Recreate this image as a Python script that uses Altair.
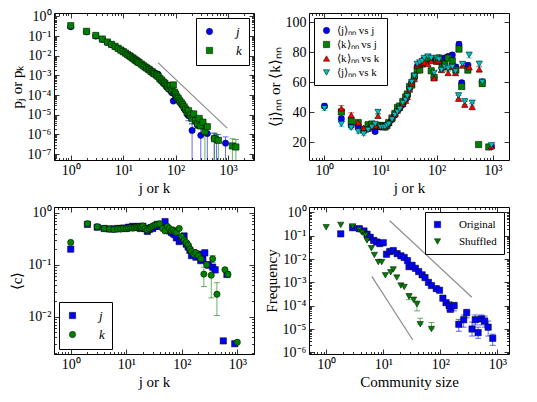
import altair as alt
import pandas as pd

FONT = "Liberation Serif"
BLUE, GREEN, RED, CYAN, GRAY = "#0000ff", "#008000", "#ff0000", "#00bfbf", "#8c8c8c"
W, H = 200, 147
TICK = 5

# ---------------- Panel A (top-left): p_j / p_k ----------------
TL_X = [1, 2, 3, 4, 5, 6, 7, 8, 9, 10,
        11, 12, 13, 14, 15, 16, 17, 18, 19, 20,
        22, 24, 26, 28, 30, 32, 34, 36, 38, 40,
        43, 46, 50, 54, 58, 62, 66, 70, 75, 80,
        85, 90, 95, 100, 106, 112, 120, 128, 136, 145,
        155, 165, 175, 190, 205, 220, 240, 260, 280, 300,
        330, 360, 400]
TL_PJ = [0.30, 0.165, 0.100, 0.068, 0.048, 0.037, 0.029, 0.0235, 0.0192, 0.016,
         0.0136, 0.0117, 0.0101, 0.0088, 0.0077, 0.0068, 0.006, 0.0054, 0.0048, 0.0044,
         0.0037, 0.0031, 0.0027, 0.0023, 0.0021, 0.0018, 0.0016, 0.0014, 0.0013, 0.0012,
         1.0e-3, 1.15e-3, 6.0e-4, 5.2e-4, 4.2e-4, 3.6e-4, 3.0e-4, 2.4e-4, 2.1e-4, 1.6e-4,
         1.3e-4, 5.0e-5, 1.2e-4, 9.0e-5, 7.0e-5, 6.0e-5, 4.5e-5, 3.6e-5, 3.0e-5, 2.0e-5,
         1.7e-5, 1.1e-5, 9.0e-6, 1.2e-5, 1.6e-6, 7.0e-6, 4.5e-6, 3.0e-6, 5.5e-6, 9.0e-7,
         3.5e-6, 2.0e-6, 1.1e-6]
TL_PK = [0.34, 0.175, 0.108, 0.071, 0.05, 0.038, 0.03, 0.024, 0.0195, 0.0163,
         0.0138, 0.0118, 0.0102, 0.0089, 0.0078, 0.0069, 0.0061, 0.0055, 0.0049, 0.0045,
         0.0038, 0.0032, 0.0027, 0.0024, 0.0021, 0.0019, 0.0016, 0.0015, 0.0013, 0.0012,
         1.05e-3, 9.0e-4, 7.0e-4, 5.8e-4, 4.6e-4, 4.0e-4, 3.2e-4, 2.7e-4, 2.2e-4, 3.0e-4,
         1.8e-4, 3.3e-4, 1.4e-4, 1.1e-4, 8.0e-5, 6.5e-5, 5.0e-5, 4.0e-5, 3.2e-5, 2.5e-5,
         1.9e-5, 1.3e-5, 1.6e-5, 9.5e-6, 6.5e-6, 1.1e-5, 5.0e-6, 3.5e-6, 6.5e-6, 2.7e-6,
         4.2e-6, 1.4e-6, 2.5e-6]
TL_J_TAIL_X = [540, 600, 890]
TL_J_TAIL_Y = [6.3e-7, 5.5e-7, 3.6e-7]
TL_K_TAIL_X = [550, 650, 1200, 1400]
TL_K_TAIL_Y = [6.0e-7, 5.0e-7, 2.6e-7, 2.3e-7]
TL_EJ_X = [175, 205, 300, 400, 540, 600, 890]
TL_EJ_LO = [5e-6, 1e-9, 1e-9, 1e-9, 1e-9, 1e-9, 1e-9]
TL_EJ_HI = [1.4e-5, 3.5e-6, 2.2e-6, 2.5e-6, 1.1e-6, 1.0e-6, 7.5e-7]
TL_EK_X = [205, 240, 360, 550, 650, 1200, 1400]
TL_EK_LO = [3.5e-6, 2e-6, 1e-9, 1e-9, 1e-9, 1e-9, 1e-9]
TL_EK_HI = [1.1e-5, 8e-6, 2.8e-6, 1.2e-6, 1.0e-6, 6e-7, 5.5e-7]
TL_GUIDE_X = [46, 955]
TL_GUIDE_Y = [4.5e-3, 2.1e-6]

# ---------------- Panel B (top-right): nearest-neighbour degree ----------------
TR_XJ_A = [1, 2, 3, 4, 5, 6, 7, 8, 9, 10,
           11, 12, 13, 14, 16, 18, 20, 22, 25, 28,
           30, 33, 36, 40, 45, 50, 55, 60, 70, 80,
           90, 100, 110, 125, 140, 160, 190, 220, 250, 280,
           360, 650, 950]
TR_A = [43.9, 35.5, 31, 29.5, 28.5, 29, 30, 27, 30.5, 30,
        30.5, 30, 31.5, 32.5, 35, 38, 41, 42.5, 45, 48.5,
        51, 56, 60, 63, 70, 72, 73, 75, 76, 75,
        63, 74, 76, 73, 76, 77, 78, 70, 85, 59.5,
        71, 60, 17]
TR_A_E = [1.5, 1.5, 1.2, 1.2, 1.0, 1.0, 1.0, 1.0, 1.0, 0.8,
          0.8, 0.8, 0.8, 0.8, 0.8, 0.8, 0.8, 0.8, 0.8, 0.8,
          0.8, 0.8, 0.8, 0.8, 0.8, 0.8, 0.8, 0.8, 0.8, 1.0,
          1.0, 1.0, 1.0, 1.2, 1.2, 1.2, 1.5, 1.5, 2.0, 1.5,
          2.0, 2.0, 1.0]
TR_XJ_B = [1, 2, 3, 4, 5, 6, 7, 8, 9, 10,
           11, 12, 13, 14, 16, 18, 20, 22, 25, 28,
           30, 33, 36, 40, 45, 50, 55, 60, 70, 80,
           90, 100, 110, 125, 140, 160, 190, 220, 250, 280,
           360, 560, 650, 850]
TR_B = [61, 40, 34, 33, 28, 31.5, 32, 31, 31, 31,
        30.5, 30, 31, 33, 36, 39, 43, 44, 47, 50,
        52, 57, 58, 64, 68, 68, 72, 74, 76, 67.5,
        63, 75, 76, 70, 72, 76, 74, 68, 82, 57,
        68, 18.3, 59, 16.7]
TR_B_E = [1.5, 1.5, 1.2, 1.2, 1.0, 1.0, 1.0, 1.0, 1.0, 0.8,
          0.8, 0.8, 0.8, 0.8, 0.8, 0.8, 0.8, 0.8, 0.8, 0.8,
          0.8, 0.8, 0.8, 0.8, 0.8, 0.8, 0.8, 0.8, 0.8, 1.0,
          1.0, 1.0, 1.0, 1.2, 1.2, 1.2, 1.5, 1.5, 2.0, 1.5,
          2.0, 1.0, 2.0, 1.0]
TR_XK_C = [1, 2, 3, 4, 5, 6, 7, 8, 9, 10,
           11, 12, 13, 14, 16, 18, 20, 22, 25, 28,
           30, 33, 36, 40, 45, 50, 55, 60, 70, 80,
           90, 100, 110, 122, 140, 160, 190, 217, 246, 290,
           317, 380, 430, 575, 950]
TR_C = [59.5, 42.5, 38, 33, 29.5, 29, 30.5, 31, 37.5, 30.5,
        31, 30.5, 32, 33, 36.5, 38.5, 41, 43, 45.5, 47.5,
        50, 55, 59, 62, 71, 72, 73, 73, 72, 74,
        62.5, 73.5, 74, 68, 70, 66, 70, 66, 49, 71,
        45, 70, 43.5, 68.5, 17.2]
TR_C_E = [1.5, 1.8, 1.5, 1.2, 1.0, 1.0, 1.0, 1.0, 1.5, 0.8,
          0.8, 0.8, 0.8, 0.8, 0.8, 0.8, 0.8, 0.8, 0.8, 0.8,
          0.8, 0.8, 0.8, 0.8, 0.8, 0.8, 0.8, 0.8, 0.8, 1.0,
          1.0, 1.0, 1.0, 1.2, 1.2, 1.2, 1.5, 1.5, 2.0, 1.5,
          2.0, 2.0, 2.0, 2.0, 1.0]
TR_XK_D = [1, 2, 3, 4, 5, 6, 7, 8, 9, 10,
           11, 12, 13, 14, 16, 18, 20, 22, 25, 28,
           30, 33, 36, 40, 45, 50, 55, 60, 70, 80,
           90, 100, 110, 122, 140, 160, 190, 217, 246, 290,
           317, 380, 430, 575, 650, 950]
TR_D = [42.5, 32, 29.5, 27, 25.5, 28, 30, 32, 40, 30,
        30, 30, 31, 32, 35, 38, 40, 42, 46, 48,
        50.5, 55, 60, 64, 72, 73, 74, 76, 77, 76,
        66, 76, 75, 68, 70, 69, 70, 67, 51, 72,
        47, 78, 46, 72, 60, 17.9]
TR_D_E = [1.5, 1.5, 1.2, 1.2, 1.0, 1.0, 1.0, 1.0, 1.5, 0.8,
          0.8, 0.8, 0.8, 0.8, 0.8, 0.8, 0.8, 0.8, 0.8, 0.8,
          0.8, 0.8, 0.8, 0.8, 0.8, 0.8, 0.8, 0.8, 0.8, 1.0,
          1.0, 1.0, 1.0, 1.2, 1.2, 1.2, 1.5, 1.5, 2.0, 1.5,
          2.0, 2.0, 2.0, 2.0, 2.0, 1.0]

# ---------------- Panel C (bottom-left): clustering ----------------
BL_XJ = [1, 2, 3, 4, 5, 6, 7, 8, 9, 10,
         11, 12, 13, 14, 15, 16, 17, 18, 19, 20,
         22, 24, 26, 28, 30, 33, 36, 40, 45, 50,
         55, 60, 65, 70, 75, 80, 90, 100, 110, 120,
         130, 140, 150, 165, 180, 200, 220, 240, 260, 300,
         360, 400, 560, 650, 900]
BL_CJ = [0.2, 0.6, 0.53, 0.5, 0.49, 0.49, 0.5, 0.5, 0.51, 0.5,
         0.53, 0.52, 0.55, 0.53, 0.52, 0.54, 0.55, 0.5, 0.53, 0.55,
         0.5, 0.44, 0.48, 0.52, 0.5, 0.55, 0.6, 0.55, 0.58, 0.68,
         0.48, 0.45, 0.42, 0.4, 0.38, 0.33, 0.28, 0.3, 0.36, 0.25,
         0.22, 0.19, 0.15, 0.17, 0.14, 0.16, 0.12, 0.13, 0.17, 0.1,
         0.09, 0.08, 0.0034, 0.065, 0.003]
BL_XK = [1, 2, 3, 4, 5, 6, 7, 8, 9, 10,
         11, 12, 13, 14, 15, 16, 17, 18, 19, 20,
         22, 24, 26, 28, 30, 33, 36, 40, 45, 50,
         55, 60, 65, 70, 75, 80, 90, 100, 110, 120,
         130, 140, 150, 165, 180, 200, 220, 250, 280, 340,
         360, 430, 600, 680, 1000]
BL_CK = [0.27, 0.62, 0.54, 0.5, 0.49, 0.48, 0.49, 0.49, 0.5, 0.5,
         0.51, 0.52, 0.51, 0.52, 0.53, 0.52, 0.54, 0.53, 0.52, 0.56,
         0.5, 0.47, 0.5, 0.53, 0.56, 0.58, 0.6, 0.62, 0.5, 0.45,
         0.55, 0.5, 0.45, 0.47, 0.44, 0.42, 0.5, 0.35, 0.3, 0.27,
         0.24, 0.2, 0.18, 0.16, 0.17, 0.15, 0.13, 0.066, 0.1, 0.063,
         0.13, 0.027, 0.08, 0.065, 0.0032]
BL_EJ_X = [200, 260, 300, 400]
BL_EJ_LO = [0.14, 0.15, 0.085, 0.07]
BL_EJ_HI = [0.18, 0.19, 0.115, 0.09]
BL_EK_X = [250, 340, 360, 430]
BL_EK_LO = [0.038, 0.023, 0.11, 0.0105]
BL_EK_HI = [0.09, 0.093, 0.15, 0.045]

# ---------------- Panel D (bottom-right): community sizes ----------------
BR_XO = [1.8, 2.9, 3.8, 4.6, 5.2, 5.9, 6.8, 7.7, 8.7, 10,
         11.4, 13, 15, 17.5, 20.4, 23.3, 26.6, 28.3, 32, 36.6,
         41.8, 48, 54, 62, 70, 85, 97, 111, 126, 143,
         150, 175, 211, 257, 290, 360, 410, 460, 525, 600,
         690, 830]
BR_YO = [0.12, 0.22, 0.2, 0.16, 0.116, 0.086, 0.063, 0.054, 0.046, 0.05,
         0.016, 0.021, 0.023, 0.017, 0.0137, 0.0117, 0.0086, 0.0047, 0.0054, 0.004,
         0.0029, 0.0021, 0.0016, 0.001, 0.00073, 0.00054, 0.00046, 0.00021, 0.000135, 0.0001,
         0.00007, 0.0001, 0.000016, 0.000025, 0.00005, 0.00001, 0.000025, 0.000007, 0.000027, 0.000022,
         0.000012, 0.000004]
BR_XS = [1, 1.8, 2.9, 3.8, 4.3, 4.9, 5.2, 6.2, 7.0, 8.2,
         9.4, 10.9, 13.5, 15, 17.3, 20.4, 23.3, 28.3, 34, 39,
         44.5, 70]
BR_YS = [0.23, 0.29, 0.25, 0.18, 0.136, 0.107, 0.063, 0.029, 0.0149, 0.0074,
         0.0074, 0.002, 0.0027, 0.0036, 0.0016, 0.00073, 0.00063, 0.00025, 0.00018, 0.000115,
         0.000016, 0.00001]
BR_EO_X = [143, 175, 211, 257, 290, 360, 410, 460, 525, 600, 690, 830]
BR_EO_LO = [6e-5, 6e-5, 8e-6, 1.2e-5, 3e-5, 5e-6, 1.5e-5, 4e-6, 1.5e-5, 1.2e-5, 5e-6, 2e-6]
BR_EO_HI = [1.5e-4, 1.4e-4, 2.6e-5, 4e-5, 7e-5, 2e-5, 4e-5, 1.2e-5, 4e-5, 3.6e-5, 2.2e-5, 6e-6]
BR_ES_X = [28.3, 39, 44.5, 70]
BR_ES_LO = [1.8e-4, 6e-5, 1.6e-5, 1.0e-5]
BR_ES_HI = [3.3e-4, 1.6e-4, 2.9e-5, 1.9e-5]
BR_G1_X = [13, 357]
BR_G1_Y = [0.44, 2.3e-4]
BR_G2_X = [6.3, 33]
BR_G2_Y = [1.8e-3, 3.4e-6]

# ---------------- helpers ----------------
SUP = str.maketrans("0123456789-", "⁰¹²³⁴⁵⁶⁷⁸⁹⁻")
LOGE = "round(log(datum.value)/LN10)"
MAJ = f"abs(log(datum.value)/LN10 - {LOGE}) < 0.01"


def log_ticks(lo, hi):
    out = []
    for e in range(-9, 5):
        for m in range(1, 10):
            v = float(f"{m}e{e}")
            if lo <= v <= hi:
                out.append(v)
    return out


def log_label_expr(exps):
    expr = "''"
    for e in exps:
        expr = f"({LOGE} == {e} ? '10{str(e).translate(SUP)}' : {expr})"
    return f"{MAJ} ? {expr} : ''"


def make_axis(orient, values, log=True, exps=None, title=None, labels=True):
    kw = dict(orient=orient, values=values, tickSize=TICK, offset=-TICK,
              domain=False, grid=False, labelPadding=3, labelOverlap=False,
              labels=labels, tickColor="black", tickWidth=0.8, title=title)
    if log:
        kw["tickDash"] = {"condition": {"test": MAJ, "value": []},
                          "value": [0, TICK / 2, TICK / 2]}
        if labels:
            kw["labelExpr"] = log_label_expr(exps)
    return alt.Axis(**kw)


def series_df(parts):
    rows = []
    for name, xs, ys in parts:
        for x, y in zip(xs, ys):
            rows.append({"series": name, "x": x, "y": y})
    return pd.DataFrame(rows)


def panel(pts, order, colors, shapes, xdom, ydom, ylog, xexps, yexps,
          xtitle, ytitle, lorient, italic, errs=(), guides=None, ylin_vals=None,
          lab_off=18, lab_size=12, row_pad=5):
    xs = alt.Scale(type="log", domain=xdom, nice=False)
    if ylog:
        ys = alt.Scale(type="log", domain=ydom, nice=False)
        yvals = log_ticks(*ydom)
    else:
        ys = alt.Scale(type="linear", domain=ydom, nice=False, zero=False)
        yvals = ylin_vals
    xvals = log_ticks(*xdom)
    leg = alt.Legend(title=None, orient=lorient, offset=5, strokeColor="black",
                     fillColor="white", padding=7, cornerRadius=0, labelFont=FONT,
                     labelFontSize=lab_size, labelFontStyle="italic" if italic else "normal",
                     symbolSize=40, symbolStrokeColor="black", symbolStrokeWidth=0.5,
                     rowPadding=row_pad, labelOffset=lab_off, labelLimit=200, labelColor="black")
    layers = []
    if guides is not None:
        layers.append(alt.Chart(guides).mark_line(color=GRAY, strokeWidth=1.2, clip=True).encode(
            x=alt.X("x:Q", scale=xs, axis=None),
            y=alt.Y("y:Q", scale=ys, axis=None),
            detail="g:N"))
    for col, xe, lo, hi in errs:
        edf = pd.DataFrame({"x": xe, "lo": lo, "hi": hi})
        layers.append(alt.Chart(edf).mark_rule(color=col, strokeWidth=1, opacity=0.6, clip=True).encode(
            x=alt.X("x:Q", scale=xs, axis=None),
            y=alt.Y("lo:Q", scale=ys, axis=None),
            y2="hi:Q"))
        layers.append(alt.Chart(edf).transform_fold(["lo", "hi"], as_=["end", "v"]).mark_tick(
            color=col, orient="horizontal", size=6, thickness=1, opacity=0.6, clip=True).encode(
            x=alt.X("x:Q", scale=xs, axis=None),
            y=alt.Y("v:Q", scale=ys, axis=None)))
    layers.append(alt.Chart(pts).mark_point(filled=True, size=40, stroke="black", strokeWidth=0.5,
                                            opacity=1, clip=True).encode(
        x=alt.X("x:Q", scale=xs, axis=make_axis("bottom", xvals, True, xexps, xtitle)),
        y=alt.Y("y:Q", scale=ys, axis=make_axis("left", yvals, ylog, yexps, ytitle)),
        color=alt.Color("series:N", scale=alt.Scale(domain=order, range=colors), legend=leg),
        shape=alt.Shape("series:N", scale=alt.Scale(domain=order, range=shapes), legend=leg)))
    layers.append(alt.Chart(pts).mark_point(opacity=0).encode(
        x=alt.X("x:Q", scale=xs, axis=make_axis("top", xvals, True, labels=False)),
        y=alt.Y("y:Q", scale=ys, axis=make_axis("right", yvals, ylog, labels=False))))
    return alt.layer(*layers).resolve_axis(x="independent", y="independent").properties(
        width=W, height=H)


def lohi(ys, es):
    return [y - e for y, e in zip(ys, es)], [y + e for y, e in zip(ys, es)]


# ---------------- build panels ----------------
tl_pts = series_df([("j", TL_X + TL_J_TAIL_X, TL_PJ + TL_J_TAIL_Y),
                    ("k", TL_X + TL_K_TAIL_X, TL_PK + TL_K_TAIL_Y)])
tl_guide = pd.DataFrame({"x": TL_GUIDE_X, "y": TL_GUIDE_Y, "g": ["a", "a"]})
p1 = panel(tl_pts, ["j", "k"], [BLUE, GREEN], ["circle", "square"],
           [0.48, 3100], [5e-8, 1.5], True, [0, 1, 2, 3], list(range(-7, 1)),
           "j or k", "pⱼ or pₖ", "top-right", True,
           [(BLUE, TL_EJ_X, TL_EJ_LO, TL_EJ_HI), (GREEN, TL_EK_X, TL_EK_LO, TL_EK_HI)], tl_guide,
           lab_off=20, lab_size=13, row_pad=5)

TR_NAMES = ["⟨j⟩ₙₙ vs j", "⟨k⟩ₙₙ vs j", "⟨k⟩ₙₙ vs k", "⟨j⟩ₙₙ vs k"]
tr_pts = series_df([(TR_NAMES[0], TR_XJ_A, TR_A), (TR_NAMES[1], TR_XJ_B, TR_B),
                    (TR_NAMES[2], TR_XK_C, TR_C), (TR_NAMES[3], TR_XK_D, TR_D)])
p2 = panel(tr_pts, TR_NAMES, [BLUE, GREEN, RED, CYAN],
           ["circle", "square", "triangle-up", "triangle-down"],
           [0.53, 1950], [8, 106], False, [0, 1, 2, 3], None,
           "j or k", "⟨j⟩ₙₙ or ⟨k⟩ₙₙ", "top-left", False,
           [(BLUE, TR_XJ_A, *lohi(TR_A, TR_A_E)), (GREEN, TR_XJ_B, *lohi(TR_B, TR_B_E)),
            (RED, TR_XK_C, *lohi(TR_C, TR_C_E)), (CYAN, TR_XK_D, *lohi(TR_D, TR_D_E))],
           None, ylin_vals=[20, 40, 60, 80, 100], lab_off=5, lab_size=11, row_pad=2)

bl_pts = series_df([("j", BL_XJ, BL_CJ), ("k", BL_XK, BL_CK)])
p3 = panel(bl_pts, ["j", "k"], [BLUE, GREEN], ["square", "circle"],
           [0.5, 2000], [0.0019, 1.3], True, [0, 1, 2, 3], [-2, -1, 0],
           "j or k", "⟨c⟩", "bottom-left", True,
           [(BLUE, BL_EJ_X, BL_EJ_LO, BL_EJ_HI), (GREEN, BL_EK_X, BL_EK_LO, BL_EK_HI)], None,
           lab_off=20, lab_size=13, row_pad=5)

br_pts = series_df([("Original", BR_XO, BR_YO), ("Shuffled", BR_XS, BR_YS)])
br_guide = pd.DataFrame({"x": BR_G1_X + BR_G2_X, "y": BR_G1_Y + BR_G2_Y, "g": ["a", "a", "b", "b"]})
p4 = panel(br_pts, ["Original", "Shuffled"], [BLUE, GREEN], ["square", "triangle-down"],
           [0.5, 1600], [8.5e-7, 1.7], True, [0, 1, 2, 3], list(range(-6, 1)),
           "Community size", "Frequency", "top-right", False,
           [(BLUE, BR_EO_X, BR_EO_LO, BR_EO_HI), (GREEN, BR_ES_X, BR_ES_LO, BR_ES_HI)], br_guide,
           lab_off=16, lab_size=11, row_pad=5)

chart = alt.concat(p1, p2, p3, p4, columns=2, spacing=8).resolve_scale(
    color="independent", shape="independent"
).resolve_legend(
    color="independent", shape="independent"
).properties(
    padding={"left": 0, "top": 0, "right": 0, "bottom": 0}
).configure_axis(
    labelFont=FONT, labelFontSize=14, titleFont=FONT, titleFontSize=15,
    titleFontWeight="normal", labelColor="black", titleColor="black", titlePadding=3
).configure_view(stroke="black", strokeWidth=1)

chart.save("out.html", embed_options={"renderer": "svg", "actions": False})
